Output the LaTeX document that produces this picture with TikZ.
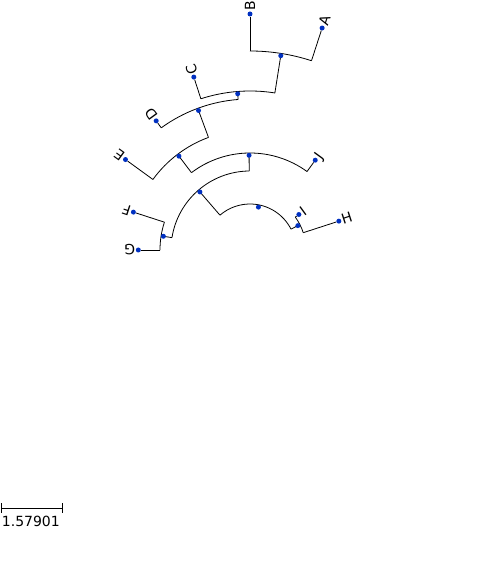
\documentclass[tikz,border=0pt]{standalone}
\usepackage{fontspec}
\setmainfont{DejaVu Sans}
\definecolor{dotblue}{HTML}{0030C1}
\begin{document}
\begin{tikzpicture}[x=1pt,y=1pt,
    branch/.style={draw=black,line width=.8pt},
    nodedot/.style={circle,fill=dotblue,inner sep=0pt,minimum size=5pt},
    leaflabel/.style={font=\fontsize{14}{16}\selectfont,inner sep=0pt,
      anchor=west,text depth=0pt}]

  \useasboundingbox (-250,250) rectangle (250,-311);

  \foreach \n/\a/\r/\p in {ab/81/199/159, cab/94.5/159/151, dc/110.25/151/120,
      ed/127.125/120/97, ej/90.5625/97/79, fg/171/90/79,
      big/130.78/79/46, ih/27/56/46} {
    \coordinate (\n-in) at (\a:\p);
    \coordinate (\n) at (\a:\r);
    \draw[branch] (\n-in) -- (\n);
  }

  \foreach \n/\a/\p/\r in {A/72/199/233.4, B/90/199/236, C/108/159/181.8,
      D/126/151/159.6, E/144/120/153.9, J/54/97/111, F/162/90/122.6,
      G/180/90/111.7, I/36/56/60.4, H/18/56/93.4} {
    \coordinate (\n-in) at (\a:\p);
    \node[nodedot] (\n) at (\a:\r) {};
    \draw[branch] (\n-in) -- (\n);
    \node[leaflabel,rotate=\a] (\n-lbl) at (\a:{\r+3}) {\n};
  }

  \draw[branch] (A-in) arc[start angle=72,end angle=90,radius=199];
  \draw[branch] (ab-in) arc[start angle=81,end angle=108,radius=159];
  \draw[branch] (cab-in) arc[start angle=94.5,end angle=126,radius=151];
  \draw[branch] (dc-in) arc[start angle=110.25,end angle=144,radius=120];
  \draw[branch] (J-in) arc[start angle=54,end angle=127.125,radius=97];
  \draw[branch] (F-in) arc[start angle=162,end angle=180,radius=90];
  \draw[branch] (ej-in) arc[start angle=90.5625,end angle=171,radius=79];
  \draw[branch] (H-in) arc[start angle=18,end angle=36,radius=56];
  \draw[branch] (ih-in) arc[start angle=27,end angle=130.78,radius=46];

  \foreach \n/\a/\r in {ab/81/199, cab/94.5/159, dc/110.25/151, ed/127.125/120,
      ej/90.5625/97, fg/171/90, big/130.78/79, ih/27/56, root/78.9/46} {
    \node[nodedot] (\n-dot) at (\a:{\r-2.3}) {};
  }

  \coordinate (bar-l) at (-248.3,-258.3);
  \coordinate (bar-r) at (-187.7,-258.3);
  \draw[branch] (bar-l) -- (bar-r);
  \draw[branch] ([yshift=5pt]bar-l) -- ([yshift=-5pt]bar-l);
  \draw[branch] ([yshift=5pt]bar-r) -- ([yshift=-5pt]bar-r);
  \node[font=\fontsize{14}{16}\selectfont,inner sep=0pt,anchor=base west]
    (bar-txt) at (-248.3,-276.7) {1.57901};

\end{tikzpicture}
\end{document}
